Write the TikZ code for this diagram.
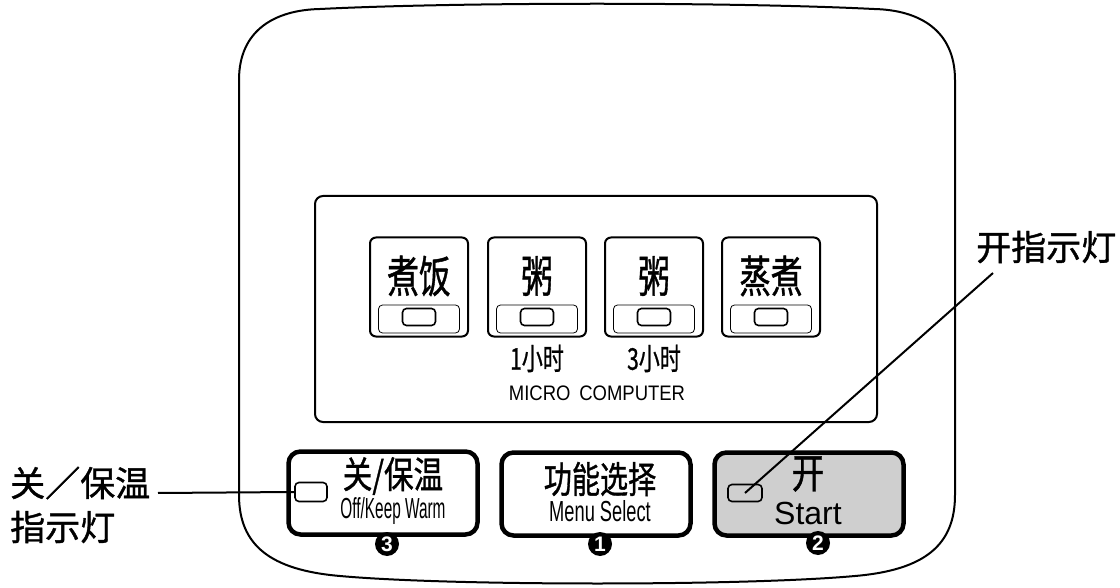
\documentclass[tikz,border=0pt]{standalone}
\usepackage{fontspec}
\usepackage{graphicx}
\setmainfont{Liberation Sans}
\newfontfamily\cjk{Noto Sans CJK SC}[FakeBold=1.1]
\usetikzlibrary{positioning}

\newcommand\narrowtxt[2]{\scalebox{#1}[1]{#2}}

\tikzset{
  outline/.style={black, line width=2pt},
  smallkey/.style={draw, line width=2pt, rounded corners=6pt, minimum width=98pt, minimum height=99pt, inner sep=0pt},
  keyframe/.style={draw, line width=0.8pt, rounded corners=4pt, minimum width=81pt, minimum height=28pt, inner sep=0pt},
  led/.style={draw, line width=1.6pt, rounded corners=4pt, minimum width=33pt, minimum height=17pt, inner sep=0pt},
  bigkey/.style={draw, line width=4.5pt, rounded corners=12pt, minimum width=189pt, minimum height=83pt, inner sep=0pt},
  numdot/.style={circle, fill=black, text=white, inner sep=0pt, minimum size=24pt, font=\bfseries\fontsize{21}{21}\selectfont},
  cnkey/.style={inner sep=0pt, font=\cjk\fontsize{44}{44}\selectfont},
  cnbig/.style={inner sep=0pt, font=\cjk\fontsize{37}{37}\selectfont},
  cnnote/.style={inner sep=0pt, font=\cjk\fontsize{30}{30}\selectfont},
  cnlabel/.style={inner sep=0pt, font=\cjk\fontsize{35}{35}\selectfont},
  enkey/.style={inner sep=0pt, font=\fontsize{29}{29}\selectfont},
  leader/.style={black, line width=2pt}
}

\begin{document}
\begin{tikzpicture}[x=1pt, y=-1pt]
  \useasboundingbox (0,0) rectangle (1120,588);
  % body of the cooker
  \draw [outline] (239,495) -- (239,80) .. controls (239,30) and (275,10) .. (320,9)
    .. controls (460,2) and (734,2) .. (874,9) .. controls (919,10) and (955,30) .. (955,80)
    -- (955,495) .. controls (955,545) and (925,570) .. (855,576)
    .. controls (745,586) and (450,586) .. (340,576) .. controls (270,570) and (239,545) .. (239,495) -- cycle;
  \draw [outline, rounded corners=8pt] (315,196) rectangle (877,422);

  % menu keys
  \foreach \name/\cx/\txt in {rice/419/煮饭, porridgeA/537/粥, porridgeB/654/粥, steam/771/蒸煮} {
    \node [smallkey] (\name) at (\cx,287) {};
    \node [cnkey] (\name txt) at (\cx,276) {\narrowtxt{0.72}{\txt}};
    \node [keyframe] (\name frame) at (\cx,319) {};
    \node [led] (\name led) at (\cx,317) {};
  }
  \node [cnnote, below=7pt of porridgeA] (oneh) {\narrowtxt{0.7}{1小时}};
  \node [cnnote, below=7pt of porridgeB] (threeh) {\narrowtxt{0.7}{3小时}};
  \node [inner sep=0pt, font=\fontsize{21}{21}\selectfont] (micro) at (597,393) {\narrowtxt{0.88}{MICRO\hspace{10pt}COMPUTER}};

  % lower keys
  \node [bigkey] (off) at (383,493) {};
  \node [bigkey] (menu) at (596,494) {};
  \node [bigkey, fill=black!19] (start) at (809,494) {};

  \node [cnbig] (offtxt) at (393,476) {\narrowtxt{0.8}{关/保温}};
  \node [enkey] (offen) at (393,511) {\narrowtxt{0.53}{Off/Keep Warm}};
  \node [led, minimum width=32pt, minimum height=19pt] (offled) at (311,492) {};

  \node [cnbig] (menutxt) at (600,479) {\narrowtxt{0.76}{功能选择}};
  \node [enkey] (menuen) at (600,511) {\narrowtxt{0.63}{Menu Select}};

  \node [cnbig, font=\cjk\fontsize{41}{41}\selectfont] (starttxt) at (808,474) {\narrowtxt{0.8}{开}};
  \node [enkey, font=\fontsize{32}{32}\selectfont] (starten) at (808,513) {Start};
  \node [led, minimum width=34pt] (startled) at (745,493) {};

  \node [numdot] (num3) at (387,544) {3};
  \node [numdot] (num1) at (600,544) {1};
  \node [numdot] (num2) at (818,543) {2};

  % callouts
  \node [cnlabel, anchor=west] (offlbl) at (10,483) {关／保温};
  \node [cnlabel, anchor=west] (offlbl2) at (10,527) {指示灯};
  \coordinate (offend) at (158,493);
  \draw [leader] (offend) -- (offled.west);

  \node [cnlabel, anchor=west] (startlbl) at (976,247) {开指示灯};
  \coordinate (startend) at (993,273);
  \draw [leader] (startend) -- (startled.center);
\end{tikzpicture}
\end{document}
